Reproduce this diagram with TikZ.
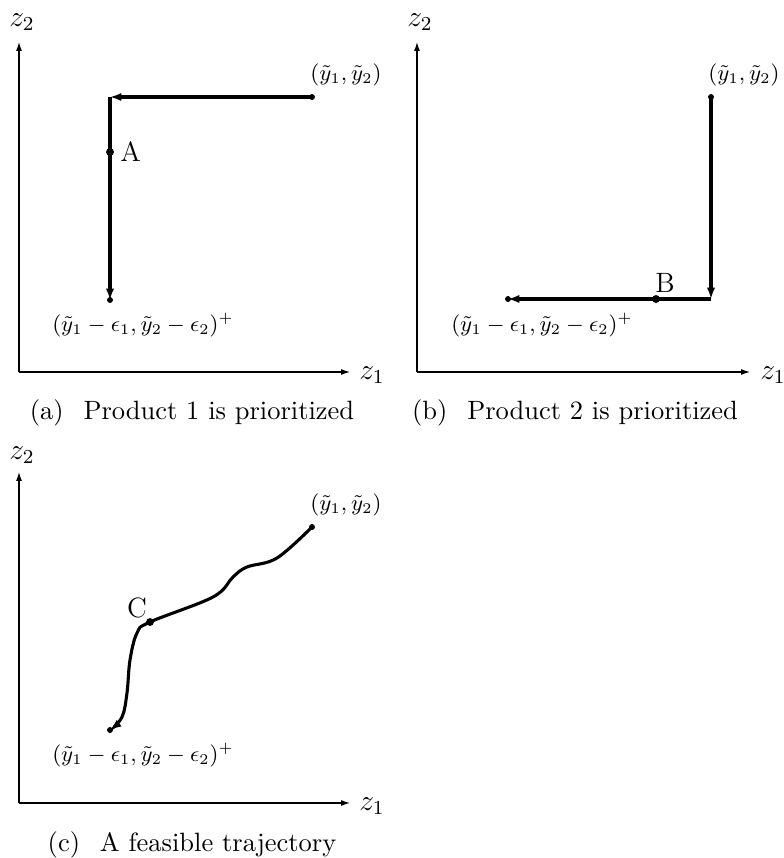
\documentclass[tikz,border=0pt]{standalone}
\usepackage{amsmath}
\usepackage{tikz}
\usetikzlibrary{arrows.meta, positioning, calc}
\tikzset{
  axis/.style={-{Latex[length=3.6pt,width=2.4pt]}, line width=0.45pt},
  traj/.style={-{Latex[length=4.6pt,width=3.4pt]}, line width=1.25pt},
  ptlabel/.style={font=\small, inner sep=0pt},
  axlabel/.style={font=\large, inner sep=0pt},
  letter/.style={font=\fontsize{11.3}{13}\selectfont, inner sep=0pt},
  capt/.style={font=\fontsize{10.7}{13}\selectfont, inner sep=0pt}
}
\newcommand{\fromlbl}{$(\tilde{y}_1,\tilde{y}_2)$}
\newcommand{\tolbl}{$(\tilde{y}_1-\epsilon_1,\tilde{y}_2-\epsilon_2)^+$}

\begin{document}
\begin{tikzpicture}[x=0.0142cm, y=-0.0142cm]
  \useasboundingbox (0,0) rectangle (784,858);

  % (a)
  \coordinate (a-o) at (19,372);
  \coordinate (a-ytop) at (19,42);
  \coordinate (a-xend) at (350,372);
  \node[axlabel] (a-z2) at (22,22) {$z_2$};
  \node[axlabel] (a-z1) at (372,375) {$z_1$};
  \draw[axis] (a-o) -- (a-ytop);
  \draw[axis] (a-o) -- (a-xend);
  \coordinate (a-start) at (312,97);
  \coordinate (a-corner) at (110,97);
  \coordinate (a-A) at (110,152);
  \coordinate (a-end) at (110,300);
  \draw[traj] (a-start) -- (a-corner);
  \draw[traj] (a-corner) -- (a-end);
  \fill (a-start) circle (1.2pt);
  \fill (a-A) circle (1.6pt);
  \fill (a-end) circle (1.2pt);
  \node[ptlabel] (a-slbl) at (346,75) {\fromlbl};
  \node[letter, right=4pt of a-A] (a-Albl) {A};
  \node[ptlabel] (a-elbl) at (143,325) {\tolbl};
  \node[capt] (a-cap) at (192,413) {(a)\hspace{0.75em}Product 1 is prioritized};

  % (b)
  \coordinate (b-o) at (417,372);
  \coordinate (b-ytop) at (417,42);
  \coordinate (b-xend) at (750,372);
  \node[axlabel] (b-z2) at (420,22) {$z_2$};
  \node[axlabel] (b-z1) at (773,375) {$z_1$};
  \draw[axis] (b-o) -- (b-ytop);
  \draw[axis] (b-o) -- (b-xend);
  \coordinate (b-start) at (711,97);
  \coordinate (b-corner) at (711,299);
  \coordinate (b-B) at (656,299);
  \coordinate (b-end) at (508,299);
  \draw[traj] (b-start) -- (b-corner);
  \draw[traj] (b-corner) -- (b-end);
  \fill (b-start) circle (1.2pt);
  \fill (b-B) circle (1.6pt);
  \fill (b-end) circle (1.2pt);
  \node[ptlabel] (b-slbl) at (744,75) {\fromlbl};
  \node[letter] (b-Blbl) at (665,283) {B};
  \node[ptlabel] (b-elbl) at (542,325) {\tolbl};
  \node[capt] (b-cap) at (575,413) {(b)\hspace{0.75em}Product 2 is prioritized};

  % (c)
  \coordinate (c-o) at (19,803);
  \coordinate (c-ytop) at (19,472);
  \coordinate (c-xend) at (350,803);
  \node[axlabel] (c-z2) at (22,455) {$z_2$};
  \node[axlabel] (c-z1) at (372,806) {$z_1$};
  \draw[axis] (c-o) -- (c-ytop);
  \draw[axis] (c-o) -- (c-xend);
  \coordinate (c-start) at (312,527);
  \coordinate (c-C) at (150,622);
  \coordinate (c-end) at (110,730);
  \draw[traj] plot[smooth, tension=0.6] coordinates {(c-start) (277,558) (247,567)
    (233,577) (213,597) (c-C) (137,633) (130,660) (127,693) (122,717) (c-end)};
  \fill (c-start) circle (1.2pt);
  \fill (c-C) circle (1.6pt);
  \fill (c-end) circle (1.2pt);
  \node[ptlabel] (c-slbl) at (346,505) {\fromlbl};
  \node[letter] (c-Clbl) at (137,608) {C};
  \node[ptlabel] (c-elbl) at (143,755) {\tolbl};
  \node[capt] (c-cap) at (192,845) {(c)\hspace{0.75em}A feasible trajectory};
\end{tikzpicture}
\end{document}
